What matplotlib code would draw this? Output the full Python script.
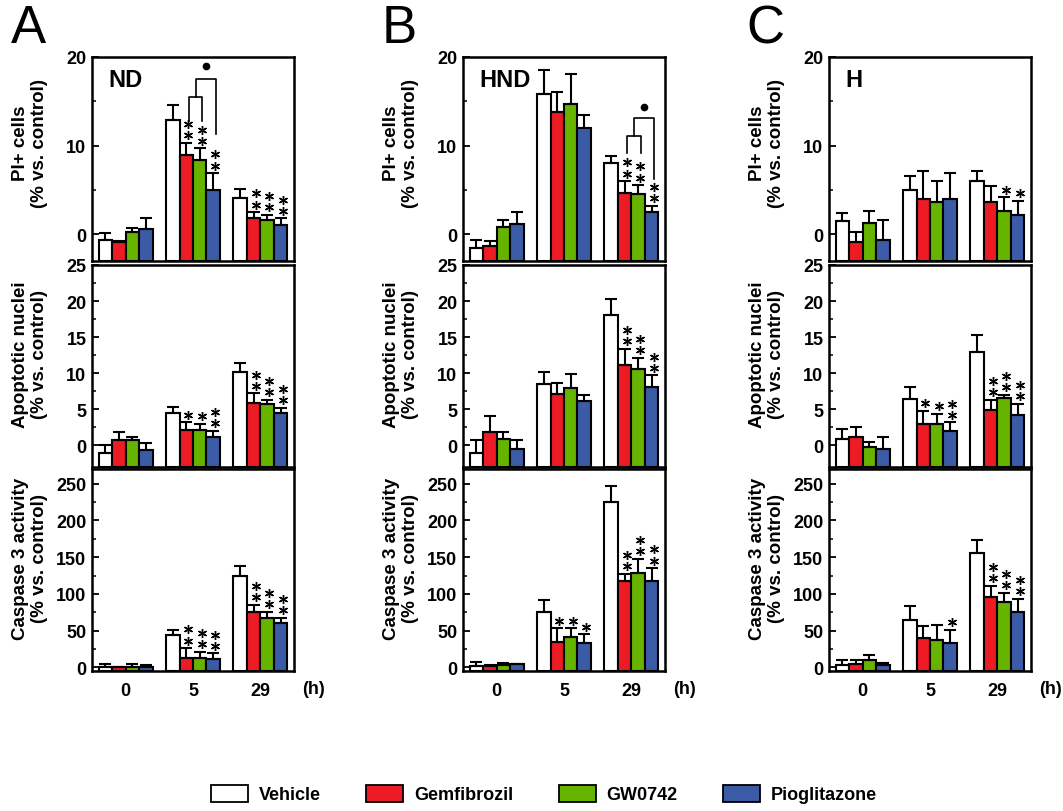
import matplotlib
matplotlib.use('Agg')
import matplotlib.pyplot as plt
import matplotlib.transforms as mtransforms
from matplotlib.patches import Patch
import numpy as np

plt.rcParams['font.family'] = ['Liberation Sans', 'DejaVu Sans']
plt.rcParams['font.weight'] = 'bold'

hours = ['0', '5', '29']
treatments = ['Vehicle', 'Gemfibrozil', 'GW0742', 'Pioglitazone']
colors = ['white', '#ED1C24', '#66B300', '#3B5BA6']
panels = ['A', 'B', 'C']
conditions = ['ND', 'HND', 'H']
row_labels = ['PI+ cells\n(% vs. control)',
              'Apoptotic nuclei\n(% vs. control)',
              'Caspase 3 activity\n(% vs. control)']

# one list per treatment, values at 0, 5, 29 h
pi_nd = [[-0.6, 12.9, 4.1], [-0.9, 9.0, 1.8], [0.3, 8.4, 1.6], [0.6, 5.0, 1.1]]
pi_nd_err = [[0.8, 1.7, 1.0], [0.2, 1.3, 0.7], [0.4, 1.3, 0.6], [1.2, 1.9, 0.7]]
apo_nd = [[-1.0, 4.5, 10.1], [0.7, 2.1, 5.9], [0.8, 2.1, 5.7], [-0.6, 1.15, 4.5]]
apo_nd_err = [[1.0, 0.8, 1.3], [1.2, 1.1, 1.3], [0.35, 0.9, 0.6], [0.9, 0.85, 0.7]]
cas_nd = [[0.5, 44, 125], [0, 13, 75], [1, 13, 67], [1, 11, 60]]
cas_nd_err = [[4.5, 7, 13], [1, 13, 10], [3, 8.5, 9], [1.5, 8, 7]]

pi_hnd = [[-1.5, 15.8, 8.1], [-1.3, 13.8, 4.7], [0.8, 14.7, 4.6], [1.2, 12.0, 2.5]]
pi_hnd_err = [[0.9, 2.7, 0.7], [0.55, 2.2, 1.3], [0.8, 3.4, 0.95], [1.3, 1.5, 0.75]]
apo_hnd = [[-1.05, 8.5, 18.05], [1.85, 7.1, 11.1], [0.92, 8.0, 10.6], [-0.45, 6.15, 8.1]]
apo_hnd_err = [[1.85, 1.7, 2.2], [2.25, 1.5, 2.3], [0.9, 1.85, 1.5], [1.25, 0.85, 1.6]]
cas_hnd = [[2, 75, 225], [2, 35, 117], [3, 41, 129], [4, 33, 118]]
cas_hnd_err = [[5, 17, 22], [1.5, 18, 10], [3, 12, 19], [1, 12, 17]]

pi_h = [[1.5, 5.0, 6.0], [-0.9, 4.0, 3.7], [1.3, 3.7, 2.6], [-0.6, 4.0, 2.2]]
pi_h_err = [[0.9, 1.6, 1.1], [1.2, 3.2, 1.8], [1.3, 2.3, 1.6], [2.2, 2.9, 1.6]]
apo_h = [[0.9, 6.45, 13.0], [1.15, 3.0, 4.9], [-0.2, 2.95, 6.5], [-0.5, 2.0, 4.2]]
apo_h_err = [[1.35, 1.7, 2.3], [1.45, 1.8, 1.4], [0.65, 1.45, 0.5], [1.65, 1.2, 1.6]]
cas_h = [[3, 65, 155], [5, 40, 96], [10, 37, 89], [3, 33, 76]]
cas_h_err = [[7, 18, 18], [5, 16, 15], [7, 20, 12], [3, 18, 17]]

# significance: (treatment, hour, number of stars)
stars_pi_nd = [(1, 1, 2), (2, 1, 2), (3, 1, 2), (1, 2, 2), (2, 2, 2), (3, 2, 2)]
stars_apo_nd = [(1, 1, 1), (2, 1, 1), (3, 1, 2), (1, 2, 2), (2, 2, 2), (3, 2, 2)]
stars_cas_nd = [(1, 1, 2), (2, 1, 2), (3, 1, 2), (1, 2, 2), (2, 2, 2), (3, 2, 2)]
stars_pi_hnd = [(1, 2, 2), (2, 2, 2), (3, 2, 2)]
stars_apo_hnd = [(1, 2, 2), (2, 2, 2), (3, 2, 2)]
stars_cas_hnd = [(1, 1, 1), (2, 1, 1), (3, 1, 1), (1, 2, 2), (2, 2, 2), (3, 2, 2)]
stars_pi_h = [(2, 2, 1), (3, 2, 1)]
stars_apo_h = [(1, 1, 1), (2, 1, 1), (3, 1, 2), (1, 2, 2), (2, 2, 2), (3, 2, 2)]
stars_cas_h = [(3, 1, 1), (1, 2, 2), (2, 2, 2), (3, 2, 2)]

# bracket between drugs: hour, inner top, inner legs bottom, outer top, outer leg bottom, dot
bracket_nd = [1, 15.5, 12.8, 17.5, 11.3, 19.0]
bracket_hnd = [2, 11.1, 9.2, 13.1, 6.2, 14.4]

data = [
    [(pi_nd, pi_nd_err, stars_pi_nd), (apo_nd, apo_nd_err, stars_apo_nd), (cas_nd, cas_nd_err, stars_cas_nd)],
    [(pi_hnd, pi_hnd_err, stars_pi_hnd), (apo_hnd, apo_hnd_err, stars_apo_hnd), (cas_hnd, cas_hnd_err, stars_cas_hnd)],
    [(pi_h, pi_h_err, stars_pi_h), (apo_h, apo_h_err, stars_apo_h), (cas_h, cas_h_err, stars_cas_h)],
]
brackets = [bracket_nd, bracket_hnd, None]

ylims = [(-3, 20), (-3, 25), (-5, 270)]
major = [np.arange(0, 21, 10), np.arange(0, 26, 5), np.arange(0, 251, 50)]
minor = [np.arange(0, 21, 5), np.arange(0, 26, 2.5), np.arange(0, 251, 25)]

W, H = 1063, 812
fig = plt.figure(figsize=(W / 100, H / 100), dpi=100)
col_left = [92, 463, 829]
col_w = 202
row_top = [58, 266, 470]
row_h = [204, 202, 202]
label_y = [0.58, 0.56, 0.56]

bw = 0.2
offs = (np.arange(4) - 1.5) * bw
x = np.arange(3)

for c in range(3):
    for r in range(3):
        ax = fig.add_axes([col_left[c] / W, 1 - (row_top[r] + row_h[r]) / H,
                           col_w / W, row_h[r] / H])
        vals, errs, stars = data[c][r]
        lo, hi = ylims[r]
        for t in range(4):
            v = np.array(vals[t])
            ax.bar(x + offs[t], v - lo, bottom=lo, width=bw, color=colors[t],
                   edgecolor='black', linewidth=1.5, zorder=2)
            ax.errorbar(x + offs[t], v, yerr=[np.zeros(3), errs[t]], fmt='none',
                        ecolor='black', elinewidth=1.5, capsize=4, capthick=1.5, zorder=3)
        for t, h, n in stars:
            top = vals[t][h] + errs[t][h]
            for k in range(n):
                tr = mtransforms.offset_copy(ax.transData, fig=fig, y=5.5 + 8 * k, units='points')
                ax.plot(h + offs[t] + 0.03, top, marker=(6, 2, 0), ms=6.5, mew=1.0,
                        color='black', transform=tr, zorder=4)
        b = brackets[c] if r == 0 else None
        if b is not None:
            h, it, ib, ot, ob, dot = b
            xg, xw, xp = h + offs[1] + 0.04, h + offs[2] + 0.04, h + offs[3] + 0.04
            xm = (xg + xw) / 2
            ax.plot([xg, xg, xw, xw], [ib, it, it, ib], color='black', lw=1.2)
            ax.plot([xm, xm, xp, xp], [it, ot, ot, ob], color='black', lw=1.2)
            ax.plot((xm + xp) / 2, dot, 'o', color='black', ms=4.5)
        ax.set_xlim(-0.5, 2.5)
        ax.set_ylim(lo, hi)
        ax.set_yticks(major[r])
        ax.set_yticks(minor[r], minor=True)
        ax.tick_params(axis='y', which='major', direction='in', length=5, width=1.3,
                       labelsize=13, pad=4)
        ax.tick_params(axis='y', which='minor', direction='in', length=3, width=1.1)
        for s in ax.spines.values():
            s.set_linewidth(1.8)
        ax.set_ylabel(row_labels[r], fontsize=13.5, fontweight='bold', linespacing=1.1)
        ax.yaxis.set_label_coords(-0.22, label_y[r])
        if r == 2:
            ax.set_xticks(x)
            ax.set_xticklabels(hours)
            ax.tick_params(axis='x', length=0, labelsize=13, pad=8)
            ax.text(1.04, -0.045, '(h)', transform=ax.transAxes, ha='left', va='top',
                    fontsize=13, fontweight='bold')
        else:
            ax.set_xticks([])
        if r == 0:
            ax.text(0.08, 0.89, conditions[c], transform=ax.transAxes, fontsize=17,
                    fontweight='bold', va='center', ha='left')
            fig.text((col_left[c] - 64) / W, 1 - 4 / H, panels[c], fontsize=38,
                     fontweight='normal', ha='center', va='top')

handles = [Patch(facecolor=colors[i], edgecolor='black', linewidth=1.3, label=treatments[i])
           for i in range(4)]
fig.legend(handles=handles, loc='center', ncol=4, frameon=False,
           prop={'weight': 'bold', 'size': 13},
           bbox_to_anchor=(544 / W, 1 - 795 / H), handlelength=2.05, handleheight=1.1,
           columnspacing=2.5, handletextpad=0.6)

fig.savefig('out.png', dpi=100)
